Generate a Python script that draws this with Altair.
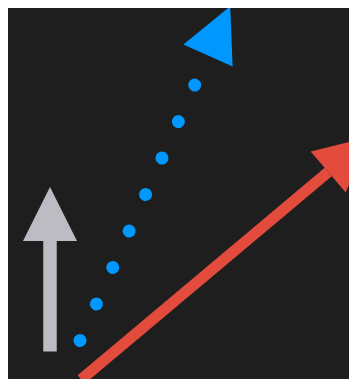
import altair as alt
import numpy as np
import pandas as pd

# Arrow data (x grows right, y grows downward)
names = ["gray", "blue", "red"]
x_start = [50.0, 80.0, 81.2]
y_start = [351.5, 340.5, 379.5]
x_end = [50.0, 208.0, 328.2]
y_end = [241.0, 55.5, 172.0]
head_angle = [0.0, 24.3, 49.5]
colors = ["#BDBCC2", "#0098FF", "#E34B3D"]

HEAD = 27.0  # half head length

ang = np.radians(head_angle)
df = pd.DataFrame({
    "name": names,
    "x0": x_start, "y0": y_start,
    "x1": x_end, "y1": y_end,
    "hx": np.array(x_end) + HEAD * np.sin(ang),
    "hy": np.array(y_end) - HEAD * np.cos(ang),
    "angle": head_angle,
    "color": colors,
})

W, H = 341, 371
xs = alt.Scale(domain=[8, 8 + W], nice=False, zero=False)
ys = alt.Scale(domain=[8, 8 + H], nice=False, zero=False, reverse=True)
X = lambda f: alt.X(f, type="quantitative", scale=xs, axis=None)
Y = lambda f: alt.Y(f, type="quantitative", scale=ys, axis=None)
col = alt.Color("color:N", scale=None)

base = alt.Chart(df)

gray_shaft = base.transform_filter(alt.datum.name == "gray").mark_rule(
    strokeWidth=13.5, strokeCap="butt").encode(x=X("x0"), y=Y("y0"), x2="x1", y2="y1", color=col)
red_shaft = base.transform_filter(alt.datum.name == "red").mark_rule(
    strokeWidth=11, strokeCap="butt").encode(x=X("x0"), y=Y("y0"), x2="x1", y2="y1", color=col)
blue_shaft = base.transform_filter(alt.datum.name == "blue").mark_rule(
    strokeWidth=13, strokeCap="round", strokeDash=[0.001, 40]).encode(
    x=X("x0"), y=Y("y0"), x2="x1", y2="y1", color=col)

heads = base.mark_point(
    shape="M0,-1L1,1L-1,1Z", size=(2 * HEAD) ** 2, filled=True, opacity=1, strokeWidth=0
).encode(x=X("hx"), y=Y("hy"), angle=alt.Angle("angle:Q", scale=None), color=col)

chart = alt.layer(gray_shaft, blue_shaft, red_shaft, heads).properties(
    width=W, height=H, background="#1e1e1e", padding=0,
    autosize=alt.AutoSizeParams(type="none"),
).configure_view(stroke=None, clip=False)

chart.save("out.html", embed_options={"renderer": "svg", "actions": False})
